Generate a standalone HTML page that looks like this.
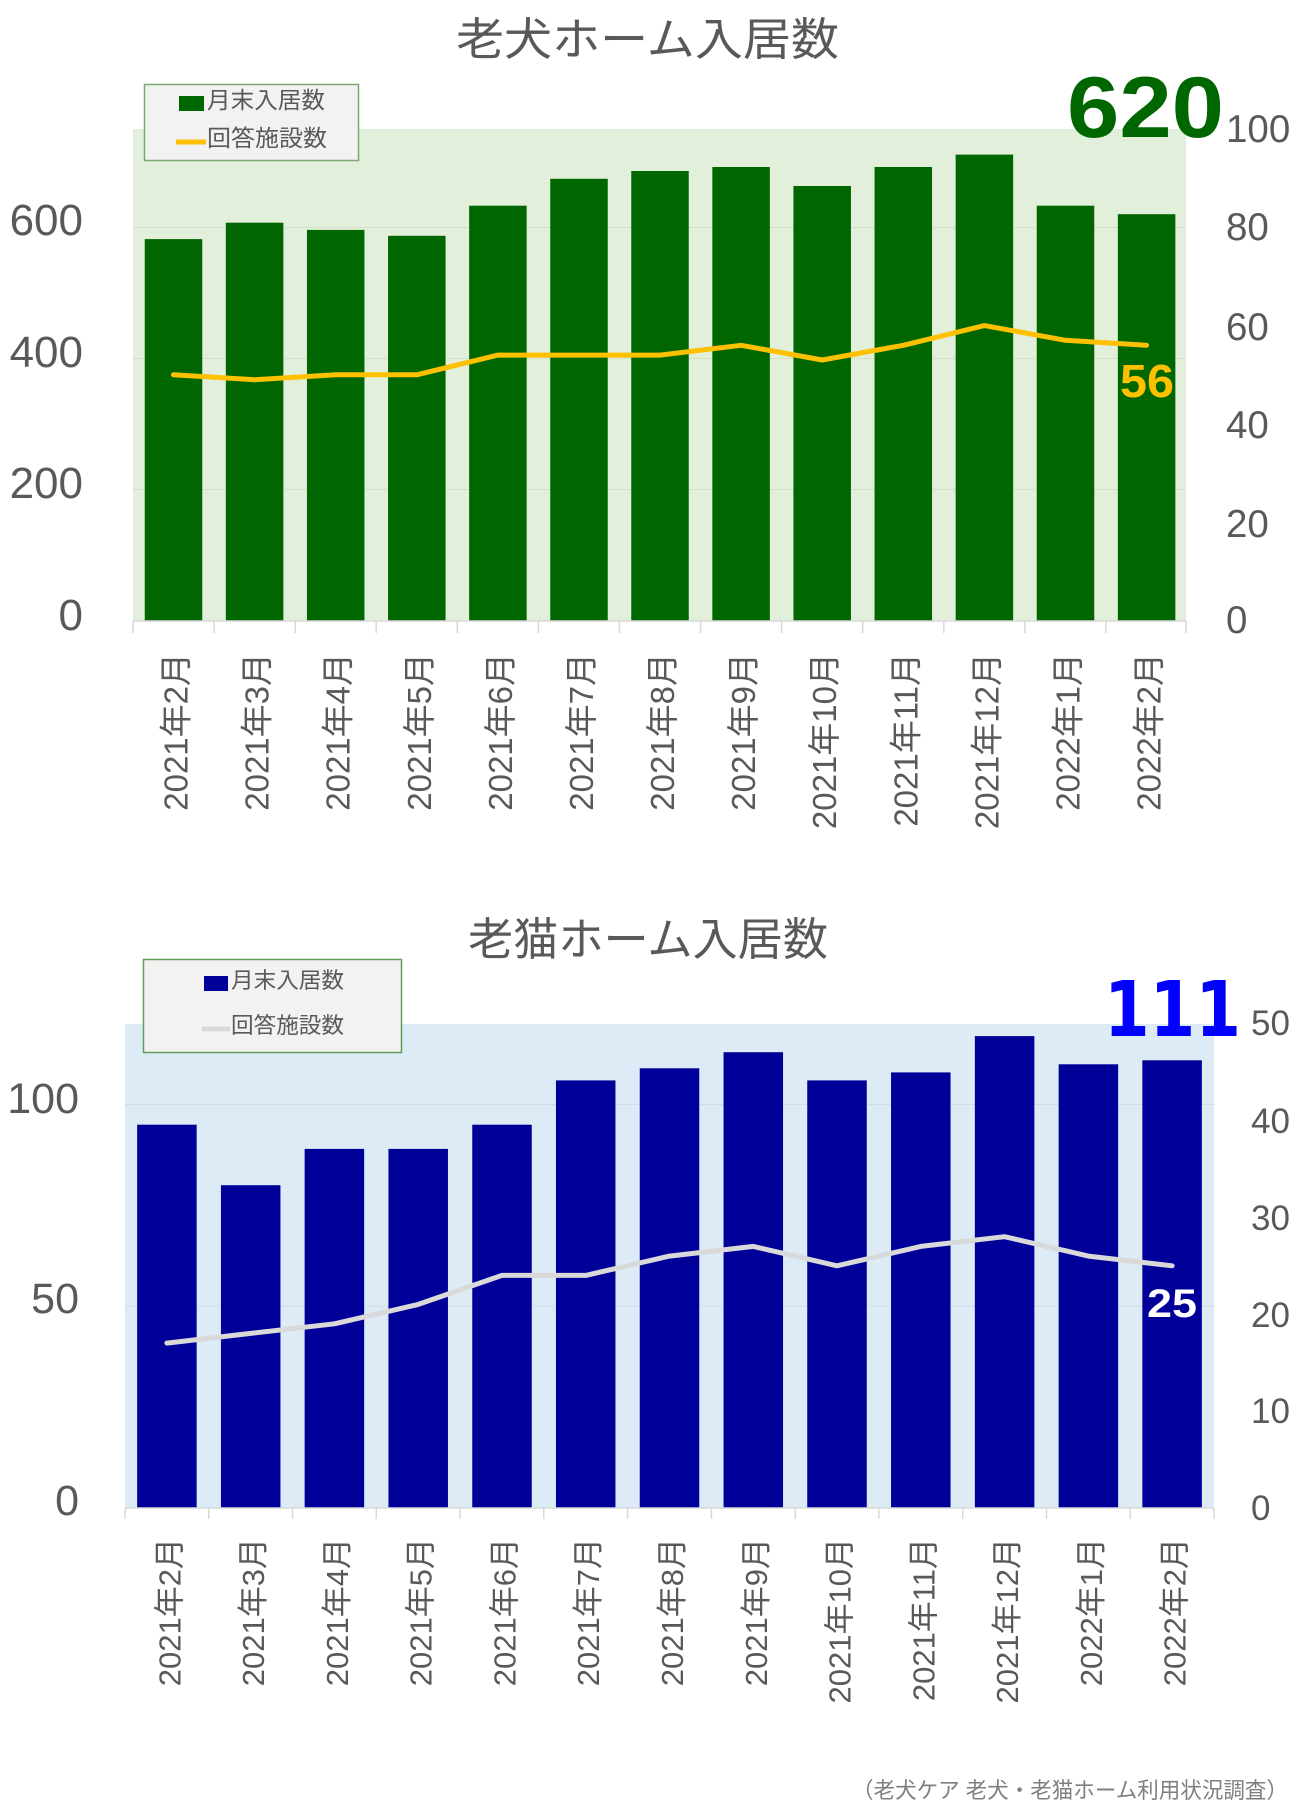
<!DOCTYPE html>
<html>
<head>
<meta charset="utf-8">
<style>
  html, body { margin: 0; padding: 0; background: #ffffff; }
  svg { display: block; }
  text { font-family: "Liberation Sans", "Noto Sans CJK JP", sans-serif; }
</style>
</head>
<body>
<svg width="1300" height="1815" viewBox="0 0 1300 1815" xmlns="http://www.w3.org/2000/svg">
  <rect x="0" y="0" width="1300" height="1815" fill="#ffffff"/>

  <!-- ================= CHART 1 ================= -->
  <text x="456" y="55" font-size="45" fill="#595959" textLength="383" lengthAdjust="spacingAndGlyphs">老犬ホーム入居数</text>

  <!-- plot area -->
  <rect x="133" y="129" width="1053" height="492" fill="#e2efda"/>
  <!-- gridlines -->
  <g stroke="#d2e0c8" stroke-width="1">
    <line x1="133" y1="227.5" x2="1186" y2="227.5"/>
    <line x1="133" y1="358.5" x2="1186" y2="358.5"/>
    <line x1="133" y1="489.5" x2="1186" y2="489.5"/>
  </g>

  <!-- bars -->
  <g fill="#006600">
    <rect x="144.75" y="239.1" width="57.5" height="381.4"/>
    <rect x="225.85" y="222.7" width="57.5" height="397.8"/>
    <rect x="306.95" y="229.9" width="57.5" height="390.6"/>
    <rect x="388.05" y="235.8" width="57.5" height="384.7"/>
    <rect x="469.15" y="205.7" width="57.5" height="414.8"/>
    <rect x="550.25" y="178.8" width="57.5" height="441.7"/>
    <rect x="631.25" y="171.0" width="57.5" height="449.5"/>
    <rect x="712.35" y="167.0" width="57.5" height="453.5"/>
    <rect x="793.45" y="186.0" width="57.5" height="434.5"/>
    <rect x="874.55" y="167.0" width="57.5" height="453.5"/>
    <rect x="955.65" y="154.6" width="57.5" height="465.9"/>
    <rect x="1036.75" y="205.7" width="57.5" height="414.8"/>
    <rect x="1117.85" y="214.2" width="57.5" height="406.3"/>
  </g>

  <!-- line -->
  <polyline fill="none" stroke="#ffc000" stroke-width="5" stroke-linejoin="round" stroke-linecap="round"
    points="173.5,374.8 254.6,379.7 335.7,374.8 416.8,374.8 497.9,355.1 579.0,355.1 660.0,355.1 741.1,345.3 822.2,360.0 903.3,345.3 984.4,325.6 1065.5,340.3 1146.6,345.3"/>

  <!-- axis line + ticks -->
  <g stroke="#d9d9d9" stroke-width="1.5">
    <line x1="133" y1="621" x2="1186" y2="621"/>
    <line x1="133" y1="621" x2="133" y2="633"/>
    <line x1="214.1" y1="621" x2="214.1" y2="633"/>
    <line x1="295.2" y1="621" x2="295.2" y2="633"/>
    <line x1="376.2" y1="621" x2="376.2" y2="633"/>
    <line x1="457.3" y1="621" x2="457.3" y2="633"/>
    <line x1="538.4" y1="621" x2="538.4" y2="633"/>
    <line x1="619.5" y1="621" x2="619.5" y2="633"/>
    <line x1="700.6" y1="621" x2="700.6" y2="633"/>
    <line x1="781.6" y1="621" x2="781.6" y2="633"/>
    <line x1="862.7" y1="621" x2="862.7" y2="633"/>
    <line x1="943.8" y1="621" x2="943.8" y2="633"/>
    <line x1="1024.9" y1="621" x2="1024.9" y2="633"/>
    <line x1="1105.9" y1="621" x2="1105.9" y2="633"/>
    <line x1="1186" y1="621" x2="1186" y2="633"/>
  </g>

  <!-- left axis labels -->
  <g font-size="44" fill="#595959" text-anchor="end">
    <text x="83" y="235">600</text>
    <text x="83" y="367">400</text>
    <text x="83" y="498">200</text>
    <text x="83" y="630">0</text>
  </g>
  <!-- right axis labels -->
  <g font-size="38.5" fill="#595959">
    <text x="1226" y="142">100</text>
    <text x="1226" y="240">80</text>
    <text x="1226" y="340">60</text>
    <text x="1226" y="438">40</text>
    <text x="1226" y="537">20</text>
    <text x="1226" y="633">0</text>
  </g>

  <!-- x labels -->
  <g font-size="33" fill="#595959" text-anchor="end">
    <text transform="translate(187.5,653) rotate(-90)">2021年2月</text>
    <text transform="translate(268.6,653) rotate(-90)">2021年3月</text>
    <text transform="translate(349.7,653) rotate(-90)">2021年4月</text>
    <text transform="translate(430.8,653) rotate(-90)">2021年5月</text>
    <text transform="translate(511.9,653) rotate(-90)">2021年6月</text>
    <text transform="translate(593.0,653) rotate(-90)">2021年7月</text>
    <text transform="translate(674.0,653) rotate(-90)">2021年8月</text>
    <text transform="translate(755.1,653) rotate(-90)">2021年9月</text>
    <text transform="translate(836.2,653) rotate(-90)">2021年10月</text>
    <text transform="translate(917.3,653) rotate(-90)">2021年11月</text>
    <text transform="translate(998.4,653) rotate(-90)">2021年12月</text>
    <text transform="translate(1079.5,653) rotate(-90)">2022年1月</text>
    <text transform="translate(1160.6,653) rotate(-90)">2022年2月</text>
  </g>

  <!-- legend -->
  <rect x="144.5" y="84.5" width="214" height="76" fill="#f2f2f2" stroke="#7aa870" stroke-width="1.5"/>
  <rect x="179" y="96" width="25" height="15" fill="#006600"/>
  <line x1="176" y1="142" x2="206" y2="142" stroke="#ffc000" stroke-width="5"/>
  <text x="207" y="108" font-size="23" fill="#595959" textLength="118" lengthAdjust="spacingAndGlyphs">月末入居数</text>
  <text x="207" y="146" font-size="23" fill="#595959" textLength="120" lengthAdjust="spacingAndGlyphs">回答施設数</text>

  <!-- highlight numbers -->
  <text x="1067" y="137" font-size="86" font-weight="bold" fill="#006600" textLength="157" lengthAdjust="spacingAndGlyphs">620</text>
  <text x="1120" y="397" font-size="46" font-weight="bold" fill="#ffc000" textLength="54" lengthAdjust="spacingAndGlyphs">56</text>

  <!-- ================= CHART 2 ================= -->
  <text x="468" y="955" font-size="45" fill="#595959" textLength="360" lengthAdjust="spacingAndGlyphs">老猫ホーム入居数</text>

  <rect x="125" y="1024" width="1089" height="483.5" fill="#ddebf7"/>
  <g stroke="#cfdbe9" stroke-width="1">
    <line x1="125" y1="1104.5" x2="1214" y2="1104.5"/>
    <line x1="125" y1="1306" x2="1214" y2="1306"/>
  </g>

  <g fill="#000099">
    <rect x="137.15" y="1124.7" width="59.5" height="382.8"/>
    <rect x="220.95" y="1185.2" width="59.5" height="322.3"/>
    <rect x="304.65" y="1148.9" width="59.5" height="358.6"/>
    <rect x="388.45" y="1148.9" width="59.5" height="358.6"/>
    <rect x="472.25" y="1124.7" width="59.5" height="382.8"/>
    <rect x="555.95" y="1080.4" width="59.5" height="427.1"/>
    <rect x="639.75" y="1068.3" width="59.5" height="439.2"/>
    <rect x="723.55" y="1052.2" width="59.5" height="455.3"/>
    <rect x="807.25" y="1080.4" width="59.5" height="427.1"/>
    <rect x="891.05" y="1072.4" width="59.5" height="435.1"/>
    <rect x="974.85" y="1036.1" width="59.5" height="471.4"/>
    <rect x="1058.65" y="1064.3" width="59.5" height="443.2"/>
    <rect x="1142.35" y="1060.3" width="59.5" height="447.2"/>
  </g>

  <polyline fill="none" stroke="#d9d9d9" stroke-width="5" stroke-linejoin="round" stroke-linecap="round"
    points="166.9,1343.1 250.7,1333.4 334.4,1323.8 418.2,1304.4 502.0,1275.4 585.7,1275.4 669.5,1256.1 753.3,1246.4 837.0,1265.8 920.8,1246.4 1004.6,1236.7 1088.4,1256.1 1172.1,1265.8"/>

  <g stroke="#d9d9d9" stroke-width="1.5">
    <line x1="125" y1="1508" x2="1214" y2="1508"/>
    <line x1="125" y1="1508" x2="125" y2="1519"/>
    <line x1="208.8" y1="1508" x2="208.8" y2="1519"/>
    <line x1="292.5" y1="1508" x2="292.5" y2="1519"/>
    <line x1="376.3" y1="1508" x2="376.3" y2="1519"/>
    <line x1="460.1" y1="1508" x2="460.1" y2="1519"/>
    <line x1="543.8" y1="1508" x2="543.8" y2="1519"/>
    <line x1="627.6" y1="1508" x2="627.6" y2="1519"/>
    <line x1="711.4" y1="1508" x2="711.4" y2="1519"/>
    <line x1="795.2" y1="1508" x2="795.2" y2="1519"/>
    <line x1="878.9" y1="1508" x2="878.9" y2="1519"/>
    <line x1="962.7" y1="1508" x2="962.7" y2="1519"/>
    <line x1="1046.5" y1="1508" x2="1046.5" y2="1519"/>
    <line x1="1130.2" y1="1508" x2="1130.2" y2="1519"/>
    <line x1="1214" y1="1508" x2="1214" y2="1519"/>
  </g>

  <g font-size="43" fill="#595959" text-anchor="end">
    <text x="79" y="1113">100</text>
    <text x="79" y="1313">50</text>
    <text x="79" y="1515">0</text>
  </g>
  <g font-size="35" fill="#595959">
    <text x="1251" y="1035">50</text>
    <text x="1251" y="1133">40</text>
    <text x="1251" y="1230">30</text>
    <text x="1251" y="1327">20</text>
    <text x="1251" y="1423">10</text>
    <text x="1251" y="1520">0</text>
  </g>

  <g font-size="31" fill="#595959" text-anchor="end">
    <text transform="translate(180.4,1538) rotate(-90)">2021年2月</text>
    <text transform="translate(264.2,1538) rotate(-90)">2021年3月</text>
    <text transform="translate(347.9,1538) rotate(-90)">2021年4月</text>
    <text transform="translate(431.7,1538) rotate(-90)">2021年5月</text>
    <text transform="translate(515.5,1538) rotate(-90)">2021年6月</text>
    <text transform="translate(599.2,1538) rotate(-90)">2021年7月</text>
    <text transform="translate(683.0,1538) rotate(-90)">2021年8月</text>
    <text transform="translate(766.8,1538) rotate(-90)">2021年9月</text>
    <text transform="translate(850.5,1538) rotate(-90)">2021年10月</text>
    <text transform="translate(934.3,1538) rotate(-90)">2021年11月</text>
    <text transform="translate(1018.1,1538) rotate(-90)">2021年12月</text>
    <text transform="translate(1101.9,1538) rotate(-90)">2022年1月</text>
    <text transform="translate(1185.6,1538) rotate(-90)">2022年2月</text>
  </g>

  <!-- legend 2 -->
  <rect x="143.5" y="959.5" width="258" height="93" fill="#f2f2f2" stroke="#5f9e55" stroke-width="1.5"/>
  <rect x="204" y="976" width="24" height="15" fill="#000099"/>
  <line x1="202" y1="1029" x2="230" y2="1029" stroke="#d9d9d9" stroke-width="5"/>
  <text x="231" y="988" font-size="22" fill="#595959" textLength="113" lengthAdjust="spacingAndGlyphs">月末入居数</text>
  <text x="231" y="1033" font-size="22" fill="#595959" textLength="113" lengthAdjust="spacingAndGlyphs">回答施設数</text>

  <text x="1104" y="1036" font-size="77" font-weight="bold" fill="#0000ff" style="font-family: 'DejaVu Sans', 'Liberation Sans', sans-serif;" textLength="137" lengthAdjust="spacingAndGlyphs">111</text>
  <text x="1147" y="1317" font-size="40" font-weight="bold" fill="#ffffff" textLength="50" lengthAdjust="spacingAndGlyphs">25</text>

  <!-- footnote -->
  <text x="852" y="1798" font-size="22" fill="#7f7f7f" textLength="436" lengthAdjust="spacingAndGlyphs">（老犬ケア 老犬・老猫ホーム利用状況調査）</text>
</svg>
</body>
</html>
